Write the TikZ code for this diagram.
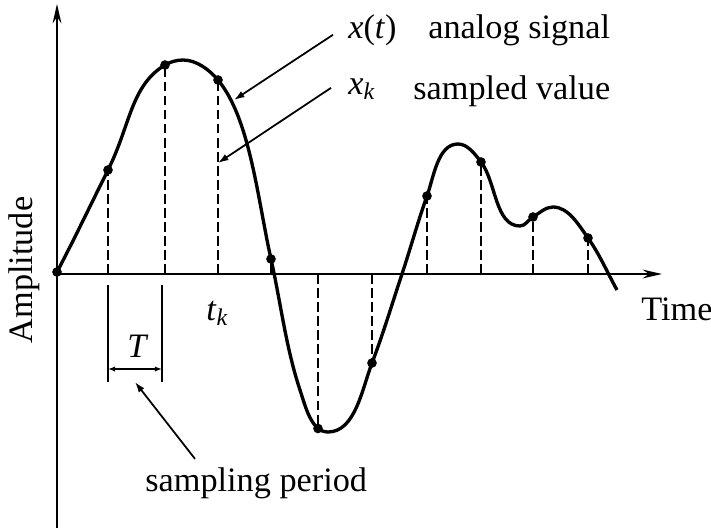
\documentclass[tikz,border=0pt]{standalone}
\usepackage{fontspec}
\setmainfont{Liberation Serif}
\usetikzlibrary{arrows.meta}

\begin{document}
\begin{tikzpicture}[x=0.02cm,y=-0.02cm,>={Latex[length=6pt,width=4pt]},
  axis/.style={line width=1.3pt,-{Stealth[length=11pt,width=5pt]}},
  signal/.style={line width=1.9pt},
  sampleline/.style={line width=1pt,dash pattern=on 5.5pt off 2.5pt},
  sampledot/.style={circle,fill,inner sep=0pt,minimum size=5.5pt},
  callout/.style={line width=1pt,->},
  txt/.style={font=\fontsize{19.5}{23}\selectfont,inner sep=0pt}]
  \useasboundingbox (0,0) rectangle (711,531);

  % axes
  \coordinate (O) at (57,274);
  \coordinate (ytop) at (57,4);
  \coordinate (ybot) at (57,528);
  \coordinate (xend) at (662,274);
  \draw[axis] (ybot) -- (ytop);
  \draw[axis] (O) -- (xend);
  \node[txt,rotate=90] (amp) at (24,270) {Amplitude};
  \node[txt,anchor=base west] (time) at (641,320) {Time};

  % analog signal x(t)
  \draw[signal] (57,272)
    .. controls (74.7,238.4) and (91,204) .. (108,170)
    .. controls (130.4,125.3) and (130.7,85.6) .. (165,65)
    .. controls (170.3,61.8) and (176.8,60) .. (183,60)
    .. controls (196.4,60) and (209.4,69.7) .. (218,80)
    .. controls (250,118.4) and (257.5,198.5) .. (271,259)
    .. controls (280.7,302.6) and (285.9,347.6) .. (300,390)
    .. controls (305.3,405.9) and (311.2,432) .. (328,432)
    .. controls (355.3,432) and (362.2,388.5) .. (372,363)
    .. controls (383.2,333.8) and (392.1,303.7) .. (402,274)
    .. controls (410.6,248.1) and (417.8,221.7) .. (427,196)
    .. controls (433.8,177) and (437.8,144) .. (458,144)
    .. controls (467.7,144) and (475.1,154.3) .. (481,162)
    .. controls (496.2,181.8) and (495,226) .. (520,226)
    .. controls (525.3,226) and (528.5,219.7) .. (533,217)
    .. controls (539.4,213.1) and (545.5,207) .. (553,207)
    .. controls (568.6,207) and (578.9,225.3) .. (588,238)
    .. controls (599.5,254.1) and (607.4,272.7) .. (617,290);

  % samples x_k
  \foreach \x/\y [count=\i from 0] in {57/272,108/170,165/65,218/80,271/259,
      318/428.5,372/363,427/196,481/162,533/217,588/238} {
    \draw[sampleline] (\x,274) -- (\x,\y);
    \node[sampledot] (s\i) at (\x,\y) {};
  }

  % sampling period T
  \draw[line width=1pt] (108,285) -- (108,382);
  \draw[line width=1pt] (162,285) -- (162,382);
  \coordinate (Ta) at (108,369);
  \coordinate (Tb) at (162,369);
  \draw[line width=1pt,{Latex[length=4pt,width=3pt]}-{Latex[length=4pt,width=3pt]}] (Ta) -- (Tb);
  \node[txt,anchor=base west] (T) at (127,357) {\textit{T}};
  \node[txt,anchor=base west] (tk) at (206,320) {\textit{t}\textsubscript{\textit{k}}};

  % labels
  \node[txt,anchor=base west] (xt) at (348,38) {\textit{x}(\textit{t})};
  \node[txt,anchor=base west] (analog) at (428,38) {analog signal};
  \node[txt,anchor=base west] (xk) at (348,94) {\textit{x}\textsubscript{\textit{k}}};
  \node[txt,anchor=base west] (sampled) at (413,99) {sampled value};
  \node[txt,anchor=base west] (period) at (145,491) {sampling period};

  \coordinate (curvept) at (234,100);
  \coordinate (linept) at (218,163);
  \coordinate (Tpt) at (135,382);
  \draw[callout] ([shift={(-15,5)}]xt.west) -- (curvept);
  \draw[callout] ([shift={(-17,-1)}]xk.west) -- (linept);
  \draw[callout] ([shift={(50,-8)}]period.north west) -- (Tpt);
\end{tikzpicture}
\end{document}
